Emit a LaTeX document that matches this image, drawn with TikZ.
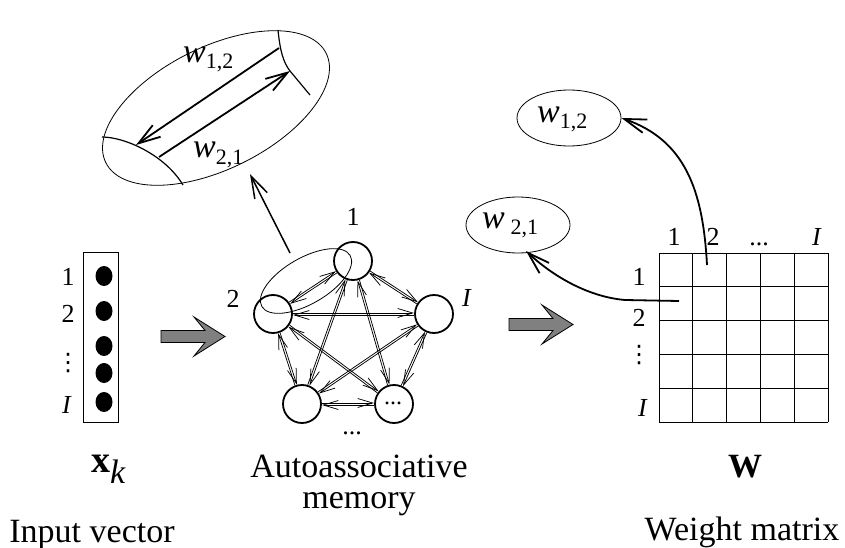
\documentclass[tikz,border=0pt]{standalone}
\usepackage{fontspec}
\setmainfont{Liberation Serif}
\newfontfamily\djv{DejaVu Sans}
\usetikzlibrary{arrows.meta,calc,shapes.geometric}
\newcommand{\wsub}[1]{\textit{w}\raisebox{-6pt}{\fontsize{22}{22}\selectfont #1}}
\newcommand{\myvdots}{{\djv\fontsize{24}{24}\selectfont ⋮}}
\begin{document}
\begin{tikzpicture}[x=1pt,y=-1pt,
  lbl/.style={font=\fontsize{26}{26}\selectfont, inner sep=0pt, anchor=base},
  big/.style={font=\fontsize{34}{34}\selectfont, inner sep=0pt, anchor=base},
  wlbl/.style={font=\fontsize{34}{34}\selectfont, inner sep=0pt, anchor=base west},
  neuron/.style={circle, draw, line width=1.8pt, minimum size=38pt, inner sep=0pt},
  netarr/.style={line width=0.75pt, -{Straight Barb[length=15pt,width=9pt]}},
  bigarr/.style={line width=1.8pt, -{Straight Barb[length=22pt,width=14pt]}},
  thinline/.style={line width=0.8pt},
  wellipse/.style={ellipse, draw, line width=0.8pt, minimum width=104pt, minimum height=56pt, inner sep=0pt},
  grayarr/.pic={\draw[fill=gray, line width=0.8pt] (-64,-6) -- (-20,-6) -- (-31,-19.5) -- (0,0) -- (-31,19.5) -- (-20,6) -- (-64,6) -- cycle;}
]
\useasboundingbox (0,0) rectangle (845,548);

% ---------- input vector ----------
\draw[thinline] (83,252) rectangle (118,422);
\foreach \yy in {276,311,346,373,402} \fill (104,\yy) ellipse [x radius=8.5, y radius=10];
\node[lbl] (in1) at (68,285.5) {1};
\node[lbl] (in2) at (68,322.5) {2};
\node[lbl, anchor=center] (in3) at (68,363) {\myvdots};
\node[lbl] (inI) at (67,413.5) {\textit{I}};
\node[wlbl] (xk) at (91,472) {{\fontsize{38}{38}\selectfont\bfseries x}\raisebox{-11pt}{\itshape k}};
\node[big] (inlbl) at (92,542) {Input vector};

% ---------- gray arrows ----------
\pic at (225,336.5) {grayarr};
\pic at (573,324.5) {grayarr};

% ---------- network ----------
\node[neuron] (n1) at (353,261) {};
\node[neuron] (n2) at (273,314) {};
\node[neuron] (nI) at (434,314) {};
\node[neuron] (nb) at (302,404) {};
\node[neuron] (nd) at (394,404) {};
\node[font=\fontsize{24}{24}\selectfont, inner sep=0pt] (ndots) at (393,403) {...};
\foreach \a/\b in {n1/n2,n1/nI,n1/nb,n1/nd,n2/nI,n2/nb,n2/nd,nI/nb,nI/nd,nb/nd}{
  \draw[netarr] ($(\a.center)!20pt!(\b.center)!1pt!90:(\b.center)$) -- ($(\b.center)!20pt!(\a.center)!1pt!-90:(\a.center)$);
  \draw[netarr] ($(\b.center)!20pt!(\a.center)!1pt!90:(\a.center)$) -- ($(\a.center)!20pt!(\b.center)!1pt!-90:(\b.center)$);
}
\node[lbl] (l1) at (353,225) {1};
\node[lbl] (l2) at (233,307) {2};
\node[lbl] (lI) at (467,306) {\textit{I}};
\node[lbl] (lbdots) at (352,434) {...};
\draw[thinline, rotate around={30:(306,281)}] (306,281) ellipse [x radius=51, y radius=23];
\node[big] (am1) at (359,477) {Autoassociative};
\node[big] (am2) at (359,508) {memory};

% ---------- magnified edge ----------
\draw[thinline, rotate around={26.4:(216,108)}] (216,108) ellipse [x radius=123, y radius=61];
\draw[line width=1.2pt] (102,137) .. controls (125,137) and (165,155) .. (183,185);
\draw[line width=1.2pt] (278,30) .. controls (280,50) and (283,62) .. (290,71) -- (310,95);
\coordinate (a1s) at (279,48);
\coordinate (a1e) at (136,145);
\coordinate (a2s) at (159,157);
\coordinate (a2e) at (290,71);
\draw[bigarr] (a1s) -- (a1e);
\draw[bigarr] (a2s) -- (a2e);
\node[wlbl] (tw12) at (183,63) {\wsub{1,2}};
\node[wlbl] (tw21) at (193,158) {\wsub{2,1}};
\coordinate (mag) at (290,253);
\coordinate (magtip) at (250,174);
\draw[bigarr, line width=1.5pt] (mag) -- (magtip);

% ---------- weight matrix ----------
\foreach \i in {0,...,5}{
  \draw[thinline] ({659+33.8*\i},253) -- ({659+33.8*\i},422);
  \draw[thinline] (659,{253+33.8*\i}) -- (828,{253+33.8*\i});
}
\node[lbl] (c1) at (674,245.5) {1};
\node[lbl] (c2) at (713,245.5) {2};
\node[lbl] (c3) at (759,245.5) {...};
\node[lbl] (cI) at (817,245.5) {\textit{I}};
\node[lbl] (r1) at (639,285.5) {1};
\node[lbl] (r2) at (639,326) {2};
\node[lbl, anchor=center] (r3) at (639,355) {\myvdots};
\node[lbl] (rI) at (643,416) {\textit{I}};
\node[big] (Wl) at (745,477) {\bfseries W};
\node[big] (wml) at (742,540) {Weight matrix};

% ---------- extracted weights ----------
\node[wellipse] (e12) at (569,118) {};
\node[wellipse] (e21) at (518,225) {};
\node[wlbl] (rw12) at (537,123) {\wsub{1,2}};
\node[wlbl] (rw21) at (482,228) {\textit{w}\,\raisebox{-6pt}{\fontsize{22}{22}\selectfont 2,1}};
\coordinate (m12) at (707,265);
\coordinate (m21) at (679,301);
\draw[bigarr] (m12) .. controls (703,190) and (685,140) .. (e12.east);
\draw[bigarr] (m21) -- (625,300) .. controls (590,297) and (555,278) .. (526,251);
\end{tikzpicture}
\end{document}
